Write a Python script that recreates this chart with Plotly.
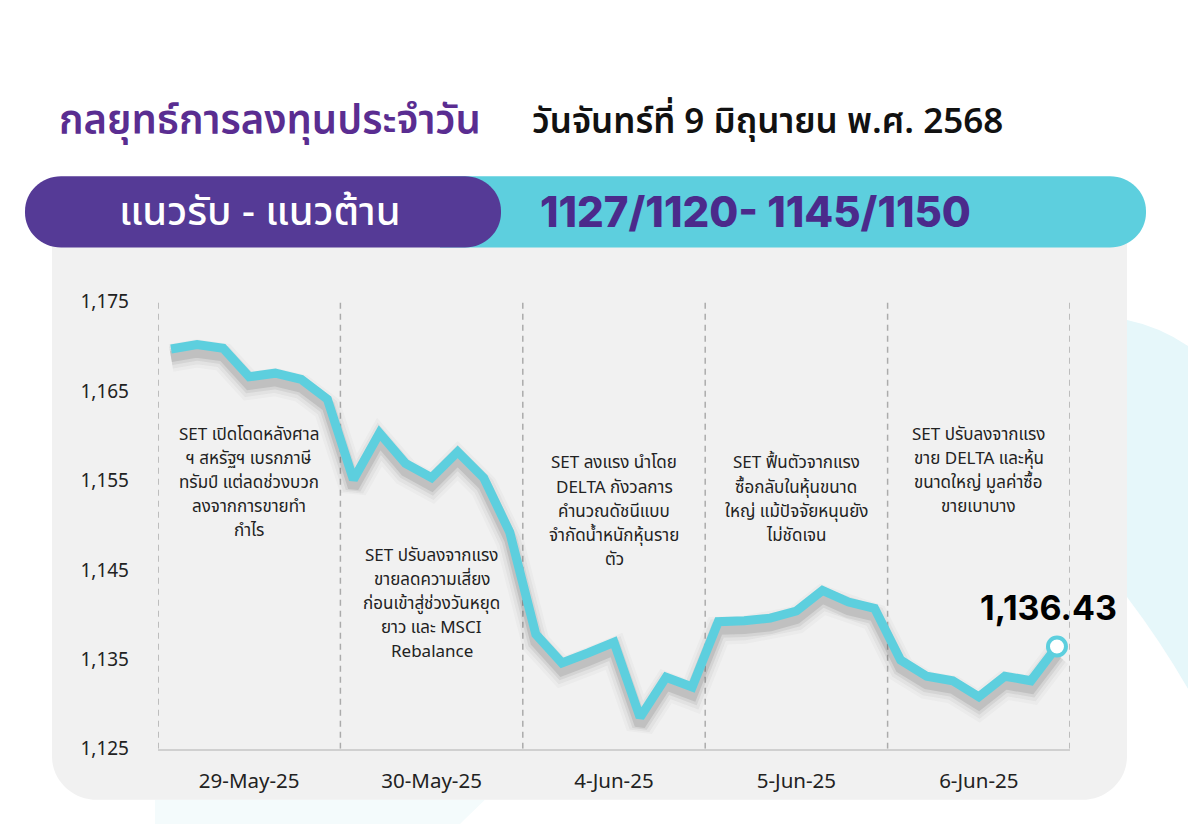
import plotly.graph_objects as go

# ---------------- data ----------------
day_labels = ["29-May-25", "30-May-25", "4-Jun-25", "5-Jun-25", "6-Jun-25"]
points_per_day = 7
set_index = [
    1169.7, 1170.2, 1169.8, 1166.6, 1167.0, 1166.3, 1164.1,
    1155.1, 1160.3, 1156.9, 1155.3, 1158.2, 1155.3, 1149.2,
    1137.8, 1134.6, 1135.7, 1136.9, 1128.5, 1133.0, 1131.9,
    1139.2, 1139.3, 1139.6, 1140.4, 1142.7, 1141.4, 1140.7,
    1134.9, 1133.1, 1132.6, 1130.8, 1133.1, 1132.6, 1136.43,
]
y_ticks = [1125, 1135, 1145, 1155, 1165, 1175]
last_label = "1,136.43"

title_text = "กลยุทธ์การลงทุนประจำวัน"
date_text = "วันจันทร์ที่ 9 มิถุนายน พ.ศ. 2568"
band_label = "แนวรับ - แนวต้าน"
band_value = "1127/1120- 1145/1150"

notes = [
    ["SET เปิดโดดหลังศาล", "ฯ สหรัฐฯ เบรกภาษี", "ทรัมป์ แต่ลดช่วงบวก", "ลงจากการขายทำ", "กำไร"],
    ["SET ปรับลงจากแรง", "ขายลดความเสี่ยง", "ก่อนเข้าสู่ช่วงวันหยุด", "ยาว และ MSCI", "Rebalance"],
    ["SET ลงแรง นำโดย", "DELTA กังวลการ", "คำนวณดัชนีแบบ", "จำกัดน้ำหนักหุ้นราย", "ตัว"],
    ["SET ฟื้นตัวจากแรง", "ซื้อกลับในหุ้นขนาด", "ใหญ่ แม้ปัจจัยหนุนยัง", "ไม่ชัดเจน"],
    ["SET ปรับลงจากแรง", "ขาย DELTA และหุ้น", "ขนาดใหญ่ มูลค่าซื้อ", "ขายเบาบาง"],
]
note_top_values = [1160.1, 1146.6, 1156.9, 1156.9, 1160.1]  # y of first line (in index units)

# ---------------- style ----------------
W, H = 1188, 840
PURPLE = "#553A96"
CYAN = "#5DCFDE"
THAI = "Noto Sans Thai, Noto Sans Thai Looped, Noto Sans, sans-serif"
NUM = "Inter, Roboto, sans-serif"


def X(px):
    return px / W


def Y(py):
    return 1 - py / H


def rrect(x0, y0, x1, y1, r):
    tl, tr, br, bl = r
    k = 0.5523
    p = lambda x, y: f"{X(x):.5f},{Y(y):.5f}"
    d = f"M {p(x0 + tl, y0)} L {p(x1 - tr, y0)} "
    d += f"C {p(x1 - tr + k * tr, y0)} {p(x1, y0 + tr - k * tr)} {p(x1, y0 + tr)} "
    d += f"L {p(x1, y1 - br)} "
    d += f"C {p(x1, y1 - br + k * br)} {p(x1 - br + k * br, y1)} {p(x1 - br, y1)} "
    d += f"L {p(x0 + bl, y1)} "
    d += f"C {p(x0 + bl - k * bl, y1)} {p(x0, y1 - bl + k * bl)} {p(x0, y1 - bl)} "
    d += f"L {p(x0, y0 + tl)} "
    d += f"C {p(x0, y0 + tl - k * tl)} {p(x0 + tl - k * tl, y0)} {p(x0 + tl, y0)} Z"
    return d


n = len(set_index)
xs = list(range(n))

fig = go.Figure()

# soft shadow under the line (derived from the series)
for w, a, off in [(28, 0.03, 1.0), (22, 0.05, 0.95), (16, 0.08, 0.9), (11, 0.12, 0.85)]:
    fig.add_trace(go.Scatter(
        x=xs, y=[v - off for v in set_index], mode="lines",
        line=dict(color=f"rgba(50,50,50,{a})", width=w), hoverinfo="skip", showlegend=False))

fig.add_trace(go.Scatter(
    x=xs, y=set_index, mode="lines",
    line=dict(color=CYAN, width=9), showlegend=False))
fig.add_trace(go.Scatter(
    x=[xs[-1]], y=[set_index[-1]], mode="markers",
    marker=dict(size=18, color="white", line=dict(color=CYAN, width=4)), showlegend=False))

shapes = []
shapes.append(dict(type="path", xref="paper", yref="paper", layer="below", line=dict(width=0),
                   fillcolor="#E6F7FA",
                   path=f"M {X(1127)},{Y(318)} Q {X(1160)},{Y(325)} {X(1188)},{Y(345)} "
                        f"L {X(1188)},{Y(700)} Q {X(1160)},{Y(650)} {X(1127)},{Y(605)} Z"))
shapes.append(dict(type="path", xref="paper", yref="paper", layer="below", line=dict(width=0),
                   fillcolor="#F4FBFC",
                   path=f"M {X(155)},{Y(815)} L {X(485)},{Y(815)} Q {X(470)},{Y(830)} {X(460)},{Y(840)} "
                        f"L {X(155)},{Y(840)} Z"))
shapes.append(dict(type="path", xref="paper", yref="paper", layer="below", line=dict(width=0),
                   fillcolor="#F1F1F1", path=rrect(52, 235, 1127, 815, (0, 0, 45, 45))))
shapes.append(dict(type="path", xref="paper", yref="paper", layer="below", line=dict(width=0),
                   fillcolor=CYAN, path=rrect(440, 169, 1146, 243, (0, 36, 36, 0))))
shapes.append(dict(type="path", xref="paper", yref="paper", layer="below", line=dict(width=0),
                   fillcolor=PURPLE, path=rrect(25, 169, 501, 243, (36, 36, 36, 36))))
for k in range(len(day_labels) + 1):
    xb = k * points_per_day - 0.5
    shapes.append(dict(type="line", xref="x", yref="y", x0=xb, x1=xb, y0=y_ticks[0], y1=y_ticks[-1] + 0.3,
                       line=dict(color="#ABABAB", width=1.5, dash="6px,5px"), layer="below"))

annotations = []
annotations.append(dict(xref="paper", yref="paper", x=X(57), y=Y(113), xanchor="left", yanchor="middle",
                        text=title_text, showarrow=False,
                        font=dict(family=THAI, size=40, color="#5A2D91", weight=600)))
annotations.append(dict(xref="paper", yref="paper", x=X(530), y=Y(113), xanchor="left", yanchor="middle",
                        text=date_text, showarrow=False,
                        font=dict(family=THAI, size=35, color="#111111", weight=600)))
annotations.append(dict(xref="paper", yref="paper", x=X(260), y=Y(207), xanchor="center", yanchor="middle",
                        text=band_label, showarrow=False,
                        font=dict(family=THAI, size=40, color="white", weight=500)))
annotations.append(dict(xref="paper", yref="paper", x=X(538), y=Y(206), xanchor="left", yanchor="middle",
                        text=band_value, showarrow=False,
                        font=dict(family=NUM, size=42, color="#4B2A8B", weight=800)))

line_gap = 25 / 9.26
for d, lines in enumerate(notes):
    xc = d * points_per_day + (points_per_day - 1) / 2
    for j, t in enumerate(lines):
        annotations.append(dict(xref="x", yref="y", x=xc, y=note_top_values[d] - j * line_gap,
                                text=t, showarrow=False, xanchor="center", yanchor="middle",
                                font=dict(family=THAI, size=17, color="#222222")))

annotations.append(dict(xref="x", yref="y", x=xs[-1], y=set_index[-1], text=f"<b>{last_label}</b>",
                        showarrow=False, xshift=-8, yshift=39,
                        font=dict(family=NUM, size=34, color="#000000")))

fig.update_layout(
    width=W, height=H,
    margin=dict(l=0, r=0, t=0, b=0),
    paper_bgcolor="white", plot_bgcolor="rgba(0,0,0,0)",
    shapes=shapes, annotations=annotations,
    xaxis=dict(domain=[X(158), X(1070)], range=[-0.5, n - 0.5],
               tickvals=[d * points_per_day + (points_per_day - 1) / 2 for d in range(len(day_labels))],
               ticktext=day_labels, ticks="", showgrid=False, zeroline=False,
               showline=True, linecolor="#D0D0D0", linewidth=1.5,
               ticklabelstandoff=13,
               tickfont=dict(family=THAI, size=20.5, color="#222222")),
    yaxis=dict(domain=[Y(762), Y(299)], range=[y_ticks[0], y_ticks[-1]],
               tickvals=y_ticks, tickformat=",", ticks="", showgrid=False, zeroline=False,
               showline=False, ticklabelstandoff=28,
               tickfont=dict(family=THAI, size=19, color="#222222")),
    showlegend=False,
)

fig.write_html("out.html", config={"displayModeBar": False},
               post_script="document.body.style.margin='0';document.body.style.overflow='hidden';")
